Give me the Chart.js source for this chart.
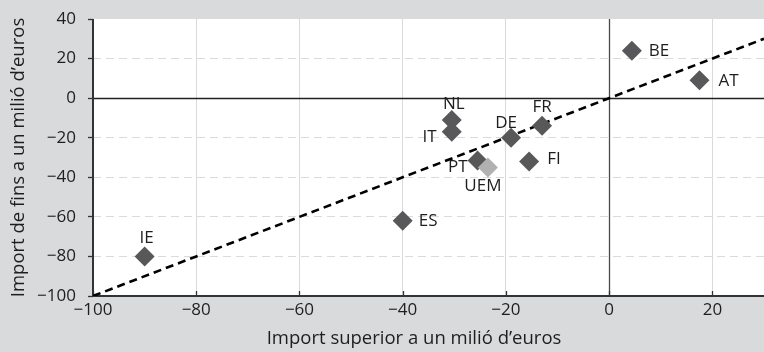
<!DOCTYPE html>
<html><head><meta charset="utf-8">
<script src="https://cdn.jsdelivr.net/npm/chart.js@4/dist/chart.umd.min.js"></script>
<style>html,body{margin:0;padding:0;background:#d9dadc;}</style>
</head><body>
<canvas id="c" width="764" height="352"></canvas>
<script>
// ---- data ----
const countries = ['BE', 'AT', 'NL', 'IT', 'DE', 'FR', 'FI', 'PT', 'ES', 'IE'];
const xValues   = [4.4, 17.5, -30.5, -30.5, -19, -13, -15.5, -25.5, -40, -90];
const yValues   = [24, 9, -11, -17, -20, -14, -32, -31.5, -62, -80];
const aggLabels = ['UEM'];
const aggX      = [-23.5];
const aggY      = [-35];
const diagonal  = [-100, 30];
const xTicks    = [-100, -80, -60, -40, -20, 0, 20];
const yTicks    = [-100, -80, -60, -40, -20, 0, 20, 40];
const xTitle = 'Import superior a un milió d\u2019euros';
const yTitle = 'Import de fins a un milió d\u2019euros';

// ---- label placement (styling) ----
const labelPlacement = {
  BE: {dx: 17, dy: 0, align: 'left'},
  AT: {dx: 19, dy: 1, align: 'left'},
  NL: {dx: 2, dy: -16, align: 'center'},
  IT: {dx: -15, dy: 5, align: 'right'},
  DE: {dx: -5, dy: -15, align: 'center'},
  FR: {dx: 0, dy: -19, align: 'center'},
  FI: {dx: 18, dy: -2, align: 'left'},
  PT: {dx: -10, dy: 7, align: 'right'},
  UEM: {dx: -5, dy: 19, align: 'center'},
  ES: {dx: 16, dy: 0, align: 'left'},
  IE: {dx: 2, dy: -18, align: 'center'}
};

const FONT = "'Open Sans', 'Noto Sans', sans-serif";
const TEXT = '#1e1e1e';
const fmt = v => (v < 0 ? '\u2212' + Math.abs(v) : String(v));

const bgPlugin = {
  id: 'bg',
  beforeDraw(chart) {
    const {ctx, chartArea: a} = chart;
    ctx.save();
    ctx.fillStyle = '#d9dadc';
    ctx.fillRect(0, 0, chart.width, chart.height);
    ctx.fillStyle = '#ffffff';
    ctx.fillRect(a.left, a.top, a.right - a.left, a.bottom - a.top);
    ctx.restore();
  }
};

const axesPlugin = {
  id: 'axes',
  beforeDatasetsDraw(chart) {
    const {ctx, chartArea: a, scales: {x, y}} = chart;
    ctx.save();
    const y0 = Math.round(y.getPixelForValue(0)) + 0.5;
    ctx.strokeStyle = '#222';
    ctx.lineWidth = 1.5;
    ctx.beginPath(); ctx.moveTo(a.left, y0); ctx.lineTo(a.right, y0); ctx.stroke();
    const x0 = Math.round(x.getPixelForValue(0)) + 0.5;
    ctx.strokeStyle = '#4a4a4a';
    ctx.lineWidth = 1.3;
    ctx.beginPath(); ctx.moveTo(x0, a.top); ctx.lineTo(x0, a.bottom); ctx.stroke();
    ctx.strokeStyle = '#333';
    ctx.lineWidth = 2;
    ctx.beginPath(); ctx.moveTo(a.left, a.top); ctx.lineTo(a.left, a.bottom); ctx.lineTo(a.right, a.bottom); ctx.stroke();
    ctx.lineWidth = 1.3;
    xTicks.forEach(v => {
      const px = Math.round(x.getPixelForValue(v)) + 0.5;
      ctx.beginPath(); ctx.moveTo(px, a.bottom); ctx.lineTo(px, a.bottom - 5); ctx.stroke();
    });
    ctx.restore();
  }
};

const labelPlugin = {
  id: 'pointLabels',
  afterDatasetsDraw(chart) {
    const {ctx} = chart;
    ctx.save();
    ctx.font = '17px ' + FONT;
    ctx.fillStyle = TEXT;
    ctx.textBaseline = 'middle';
    [0, 1].forEach(di => {
      const ds = chart.data.datasets[di];
      const meta = chart.getDatasetMeta(di);
      meta.data.forEach((el, i) => {
        const name = ds.names[i];
        const p = labelPlacement[name];
        ctx.textAlign = p.align;
        ctx.fillText(name, el.x + p.dx, el.y + p.dy);
      });
    });
    ctx.restore();
  },
  afterDraw(chart) {
    const {ctx, chartArea: a} = chart;
    ctx.save();
    ctx.font = '18.5px ' + FONT;
    ctx.fillStyle = TEXT;
    ctx.textAlign = 'center';
    ctx.textBaseline = 'middle';
    ctx.fillText(xTitle, 414, 339);
    ctx.translate(19, (a.top + a.bottom) / 2);
    ctx.rotate(-Math.PI / 2);
    ctx.fillText(yTitle, 0, 0);
    ctx.restore();
  }
};

new Chart(document.getElementById('c'), {
  data: {
    datasets: [
      {
        type: 'scatter',
        names: countries,
        data: countries.map((c, i) => ({x: xValues[i], y: yValues[i]})),
        pointStyle: 'rectRot',
        pointRadius: 10,
        pointHoverRadius: 10,
        backgroundColor: '#58585a',
        borderColor: '#58585a',
        borderWidth: 0,
        order: 1
      },
      {
        type: 'scatter',
        names: aggLabels,
        data: aggLabels.map((c, i) => ({x: aggX[i], y: aggY[i]})),
        pointStyle: 'rectRot',
        pointRadius: 10,
        pointHoverRadius: 10,
        backgroundColor: '#b1b1b1',
        borderColor: '#b1b1b1',
        borderWidth: 0,
        order: 0
      },
      {
        type: 'line',
        data: diagonal.map(v => ({x: v, y: v})),
        borderColor: '#000',
        borderWidth: 2.6,
        borderDash: [8, 5],
        pointRadius: 0,
        fill: false,
        order: 2
      }
    ]
  },
  options: {
    responsive: false,
    animation: false,
    devicePixelRatio: 1,
    layout: {autoPadding: false, padding: {top: 19, left: 0, right: 0, bottom: 0}},
    plugins: {legend: {display: false}, tooltip: {enabled: false}},
    scales: {
      x: {
        type: 'linear', min: -100, max: 30,
        afterBuildTicks: s => { s.ticks = xTicks.map(v => ({value: v})); },
        afterFit: s => { s.height = 56; s.paddingRight = 0; s.paddingLeft = 0; },
        ticks: {callback: fmt, padding: 4, color: TEXT, font: {family: FONT, size: 17}, maxRotation: 0},
        grid: {
          drawTicks: false,
          color: c => (c.tick && (c.tick.value === 0 || c.tick.value === -100)) ? 'rgba(0,0,0,0)' : '#dadada',
          lineWidth: 1
        },
        border: {display: false}
      },
      y: {
        type: 'linear', min: -100, max: 40,
        afterBuildTicks: s => { s.ticks = yTicks.map(v => ({value: v})); },
        afterFit: s => { s.width = 93; s.paddingTop = 0; s.paddingBottom = 0; },
        ticks: {callback: fmt, padding: 12, color: TEXT, font: {family: FONT, size: 17}},
        grid: {
          drawTicks: true, tickLength: 5, tickColor: '#333', tickWidth: 1.3,
          color: c => (c.tick && (c.tick.value === 0 || c.tick.value === 40 || c.tick.value === -100)) ? 'rgba(0,0,0,0)' : '#dadada',
          lineWidth: 1
        },
        border: {display: false, dash: [8, 5]}
      }
    }
  },
  plugins: [bgPlugin, axesPlugin, labelPlugin]
});
</script>
</body></html>
